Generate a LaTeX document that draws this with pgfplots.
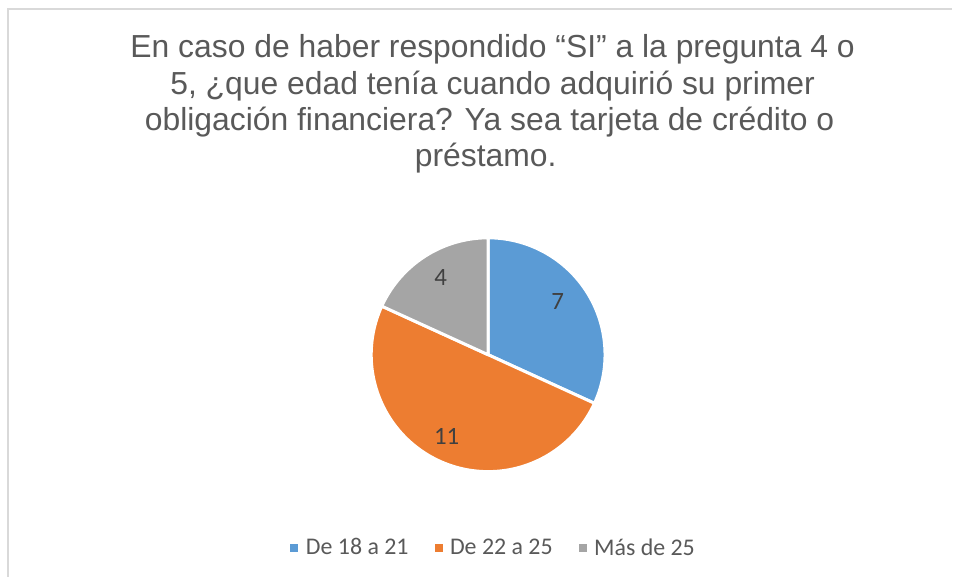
\documentclass[border=0pt]{standalone}
\usepackage{fontspec}
\setmainfont{Liberation Sans}
\newfontfamily\calibri{Carlito}
\usepackage{pgfplots}
\pgfplotsset{compat=1.18}
\definecolor{SliceBlue}{HTML}{5B9BD5}
\definecolor{SliceOrange}{HTML}{ED7D31}
\definecolor{SliceGray}{HTML}{A5A5A5}
\definecolor{TitleGray}{HTML}{595959}
\definecolor{LabelGray}{HTML}{404040}
\definecolor{FrameGray}{HTML}{D9D9D9}

% counts per age group
\def\vA{7}
\def\vB{11}
\def\vC{4}

\begin{document}
\begin{tikzpicture}
\pgfmathsetmacro{\tot}{\vA+\vB+\vC}
\pgfmathsetmacro{\aA}{90-360*\vA/\tot}
\pgfmathsetmacro{\aB}{\aA-360*\vB/\tot}
\pgfmathsetmacro{\aC}{\aB-360*\vC/\tot}
\def\cx{488.5}
\def\cy{222}
\def\rr{117}
\begin{axis}[
    width=953bp, height=577bp, scale only axis,
    xmin=0, xmax=953, ymin=0, ymax=577,
    hide axis, clip=false,
    legend columns=3,
    legend style={at={(axis cs:494,29)}, anchor=center, draw=none, fill=none,
        font=\calibri\fontsize{24}{28}\selectfont, text=TitleGray,
        /tikz/every even column/.style={column sep=24bp},
        /tikz/every odd column/.style={column sep=0bp}},
    legend image code/.code={\path[#1, draw=none, line width=0pt] (0bp,-4bp) rectangle (8bp,4bp);
        \path (12bp,0bp);},
]
\addplot[draw=none, forget plot] coordinates {(0,0) (953,577)};
\addplot[fill=SliceBlue, draw=white, line width=3bp, line join=round,
    domain=\aA:90, samples=80, variable=\t]
    ({\cx+\rr*cos(t)}, {\cy+\rr*sin(t)}) -- (axis cs:\cx,\cy) -- cycle;
\addlegendentry{De 18 a 21}
\addplot[fill=SliceOrange, draw=white, line width=3bp, line join=round,
    domain=\aB:\aA, samples=100, variable=\t]
    ({\cx+\rr*cos(t)}, {\cy+\rr*sin(t)}) -- (axis cs:\cx,\cy) -- cycle;
\addlegendentry{De 22 a 25}
\addplot[fill=SliceGray, draw=white, line width=3bp, line join=round,
    domain=\aC:\aB, samples=60, variable=\t]
    ({\cx+\rr*cos(t)}, {\cy+\rr*sin(t)}) -- (axis cs:\cx,\cy) -- cycle;
\addlegendentry{Más de 25}

% frame (left and top edges only)
\draw[FrameGray, line width=1.5bp] (axis cs:8,0) -- (axis cs:8,568) -- (axis cs:953,568);

% title
\begin{scope}[every node/.style={font=\fontsize{32}{36}\selectfont, text=TitleGray, anchor=base, inner sep=0}]
\node at (axis cs:493,519) {En caso de haber respondido “SI” a la pregunta 4 o};
\node at (axis cs:493,482) {5, ¿que edad tenía cuando adquirió su primer};
\node at (axis cs:490,446) {obligación financiera? Ya sea tarjeta de crédito o};
\node at (axis cs:486,410) {préstamo.};
\end{scope}

% data labels
\begin{scope}[every node/.style={font=\calibri\fontsize{25}{28}\selectfont, text=LabelGray}]
\node at (axis cs:558,275) {\vA};
\node at (axis cs:447,140) {\vB};
\node at (axis cs:441,299) {\vC};
\end{scope}
\end{axis}
\end{tikzpicture}
\end{document}
